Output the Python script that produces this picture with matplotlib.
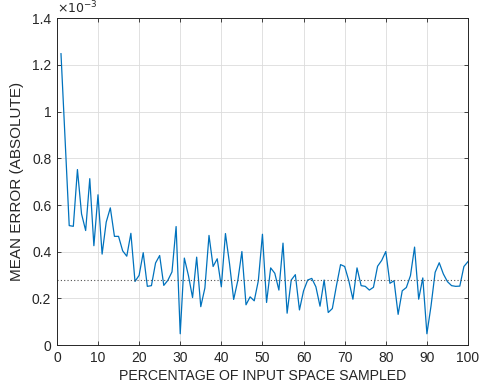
import numpy as np
import matplotlib
matplotlib.use('Agg')
import matplotlib.pyplot as plt
from matplotlib.ticker import FuncFormatter

# data (mean absolute error, in units of 1e-3)
pct = list(range(1, 101))
err = [1.248, 0.88, 0.512, 0.509, 0.752, 0.562, 0.491, 0.713, 0.426, 0.644,
       0.39, 0.527, 0.588, 0.466, 0.466, 0.404, 0.381, 0.479, 0.273, 0.299,
       0.396, 0.252, 0.255, 0.352, 0.384, 0.256, 0.278, 0.314, 0.508, 0.049,
       0.373, 0.298, 0.204, 0.377, 0.165, 0.245, 0.47, 0.337, 0.37, 0.25,
       0.478, 0.348, 0.196, 0.276, 0.401, 0.173, 0.207, 0.19, 0.276, 0.475,
       0.183, 0.331, 0.308, 0.236, 0.437, 0.137, 0.279, 0.302, 0.151, 0.233,
       0.279, 0.286, 0.25, 0.167, 0.279, 0.14, 0.157, 0.255, 0.345, 0.337,
       0.276, 0.197, 0.331, 0.255, 0.252, 0.236, 0.248, 0.338, 0.363, 0.401,
       0.265, 0.276, 0.132, 0.233, 0.247, 0.298, 0.42, 0.197, 0.288, 0.049,
       0.168, 0.312, 0.353, 0.305, 0.272, 0.255, 0.252, 0.253, 0.337, 0.358]
ref_level = 0.28
scale = 1e-3

plt.rcParams['font.family'] = ['Liberation Sans', 'DejaVu Sans']

fig = plt.figure(figsize=(4.82, 3.87), dpi=100)
ax = fig.add_axes([0.118, 0.108, 0.853, 0.845])

ax.plot(pct, np.array(err) * scale, color='#0072BD', lw=0.9)
ax.axhline(ref_level * scale, color='#505050', ls=(0, (1, 2)), lw=0.8)

ax.set_xlim(0, 100)
ax.set_ylim(0, 1.4e-3)
ax.set_xticks(np.arange(0, 101, 10))
ax.set_yticks(np.arange(0, 1.41e-3, 0.2e-3))
ax.yaxis.set_major_formatter(FuncFormatter(lambda v, p: f"{v / scale:.1f}".rstrip('0').rstrip('.')))

ax.grid(True, color='#dcdcdc', lw=0.6)
ax.set_axisbelow(True)
ax.tick_params(direction='in', length=3, width=0.6, top=True, right=True,
               labelsize=10, colors='#262626', pad=4)
for s in ax.spines.values():
    s.set_color('#262626')
    s.set_linewidth(0.7)

ax.set_xlabel('PERCENTAGE OF INPUT SPACE SAMPLED', fontsize=10.2, color='#262626', labelpad=3)
ax.set_ylabel('MEAN ERROR (ABSOLUTE)', fontsize=11, color='#262626', labelpad=6)
ax.text(0.0, 1.005, r'$\times 10^{-3}$', transform=ax.transAxes, fontsize=9,
        ha='left', va='bottom', color='#262626')

fig.savefig('out.png', dpi=100)
